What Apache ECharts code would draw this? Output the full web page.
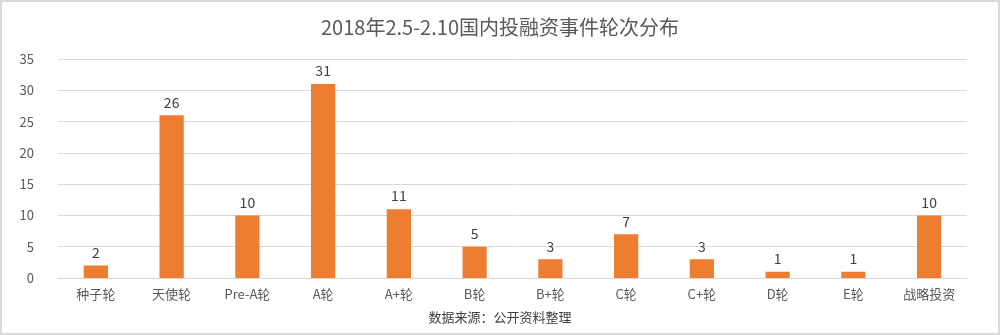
<!DOCTYPE html>
<html>
<head>
<meta charset="utf-8">
<script src="https://cdn.jsdelivr.net/npm/echarts@6/dist/echarts.min.js"></script>
<style>
html, body { margin: 0; padding: 0; background: #fff; }
#chart { width: 1000px; height: 335px; box-sizing: border-box; border: 2px solid #d9d9d9; }
</style>
</head>
<body>
<div id="chart"></div>
<script>
// 轮次分类与事件数量
const categories = ['种子轮', '天使轮', 'Pre-A轮', 'A轮', 'A+轮', 'B轮', 'B+轮', 'C轮', 'C+轮', 'D轮', 'E轮', '战略投资']
const counts = [2, 26, 10, 31, 11, 5, 3, 7, 3, 1, 1, 10]
const yTicks = { min: 0, max: 35, interval: 5 }

const chart = echarts.init(document.getElementById('chart'))
chart.setOption({
    textStyle: { fontFamily: '"Noto Sans CJK SC", "Open Sans", sans-serif' },
    title: {
        text: '2018年2.5-2.10国内投融资事件轮次分布',
        left: 'center',
        top: 10,
        textStyle: { fontSize: 20, fontWeight: 'normal', color: '#595959' }
    },
    graphic: [{
        type: 'text',
        left: 'center',
        top: 309,
        style: { text: '数据来源：公开资料整理', fontSize: 13, fill: '#404040',
            fontFamily: '"Noto Sans CJK SC", sans-serif' }
    }],
    grid: { left: 56, right: 31, top: 57, bottom: 55 },
    xAxis: {
        type: 'category',
        data: categories,
        axisTick: { show: false },
        axisLine: { lineStyle: { color: '#d9d9d9' } },
        axisLabel: { color: '#595959', fontSize: 13, margin: 10 }
    },
    yAxis: {
        type: 'value',
        min: yTicks.min,
        max: yTicks.max,
        interval: yTicks.interval,
        axisLine: { show: false },
        axisTick: { show: false },
        axisLabel: { color: '#595959', fontSize: 13, margin: 24 },
        splitLine: { lineStyle: { color: '#d9d9d9' } }
    },
    series: [{
        type: 'bar',
        data: counts,
        barWidth: '32%',
        itemStyle: { color: '#ed7d31' },
        label: { show: true, position: 'top', color: '#404040', fontSize: 14, distance: 6 }
    }]
})
</script>
</body>
</html>
